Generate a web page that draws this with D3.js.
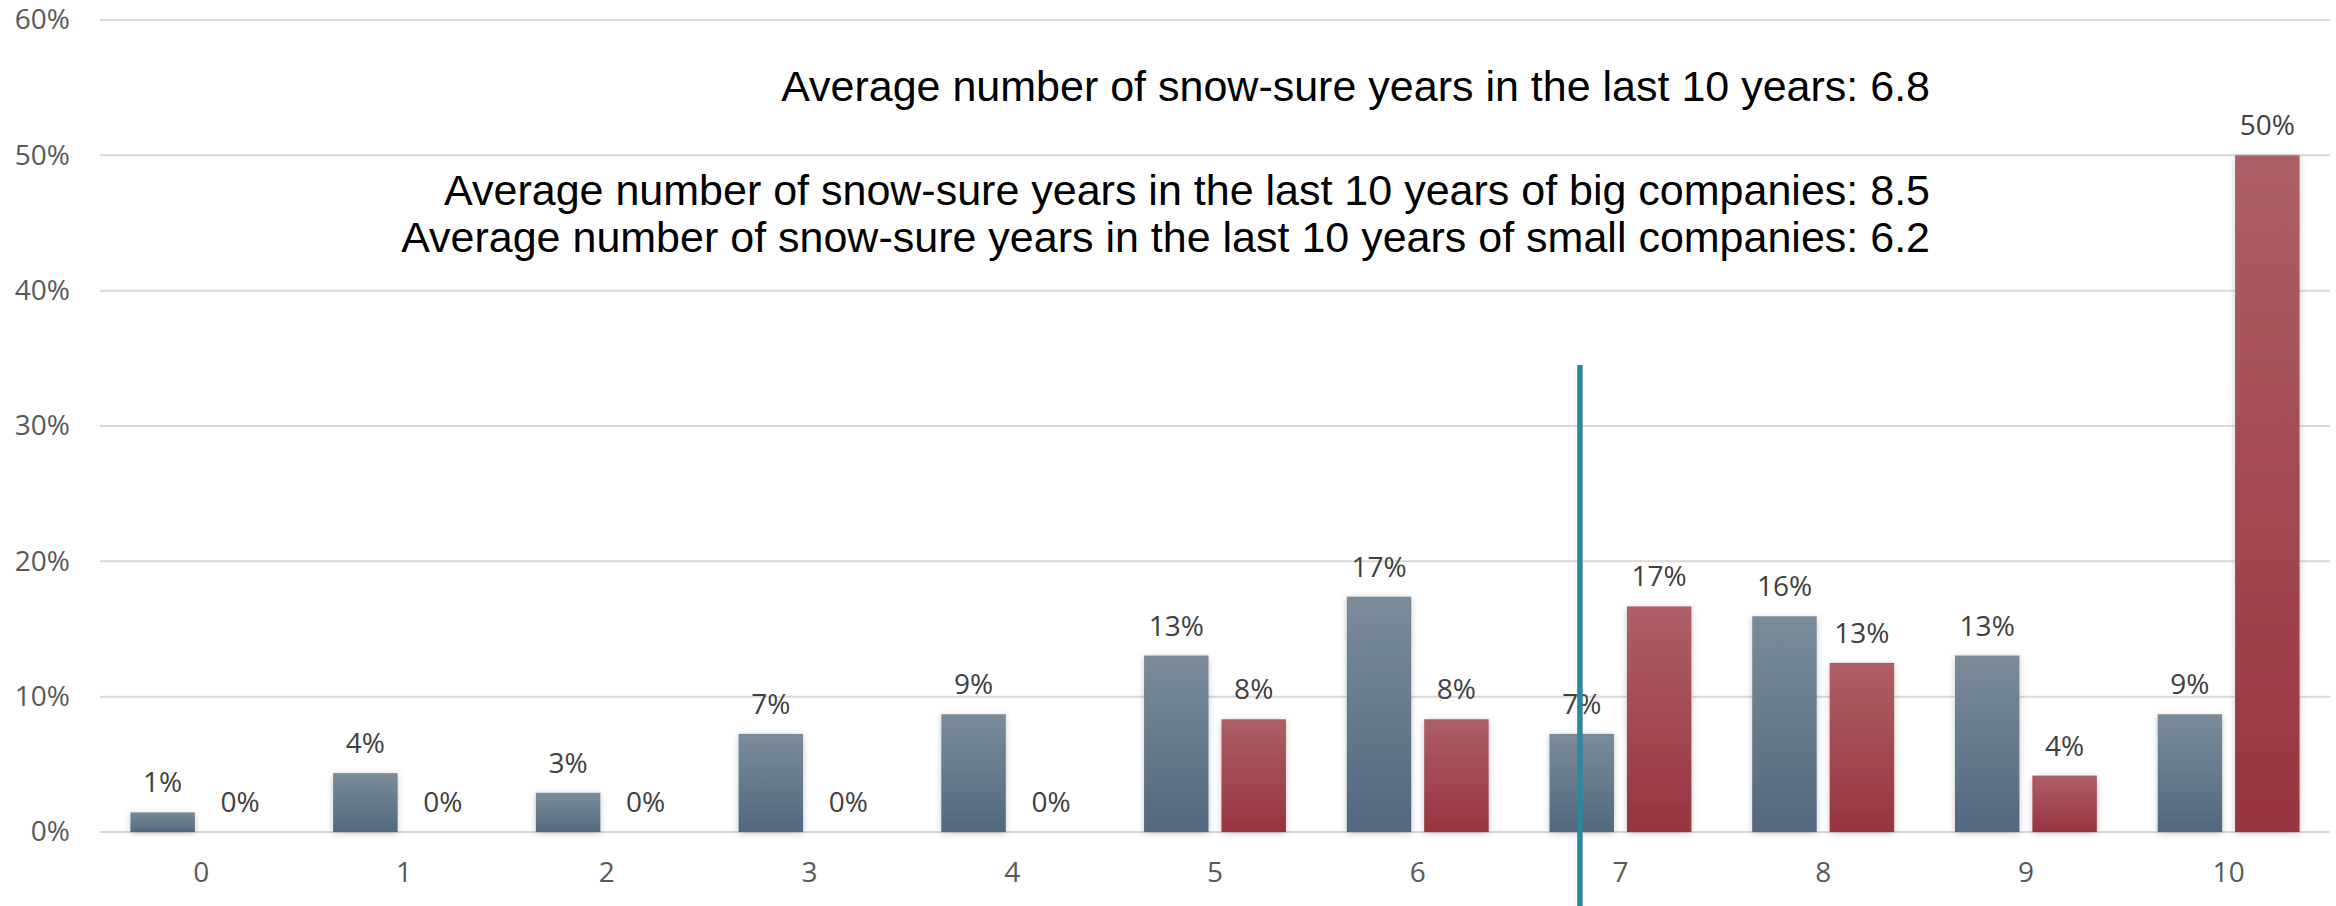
<!DOCTYPE html>
<html>
<head>
<meta charset="utf-8">
<script src="https://cdn.jsdelivr.net/npm/d3@7"></script>
<style>
  html, body { margin: 0; padding: 0; background: #fff; }
  svg { display: block; }
</style>
</head>
<body>
<div id="chart"></div>
<script>
// Number of snow-sure years out of the last ten, share of companies per bucket
const categories = ["0", "1", "2", "3", "4", "5", "6", "7", "8", "9", "10"];
const smallCompanies = [0.0145, 0.0435, 0.029, 0.0725, 0.087, 0.1304, 0.1739, 0.0725, 0.1594, 0.1304, 0.087];
const bigCompanies = [0, 0, 0, 0, 0, 0.0833, 0.0833, 0.1667, 0.125, 0.0417, 0.5];
const seriesNames = ["small", "big"];
const yTicks = [0, 0.1, 0.2, 0.3, 0.4, 0.5, 0.6];
const overallAverage = 6.8;
const markerTop = 0.345;
const notes = [
  "Average number of snow-sure years in the last 10 years: 6.8",
  "Average number of snow-sure years in the last 10 years of big companies: 8.5",
  "Average number of snow-sure years in the last 10 years of small companies: 6.2"
];

const W = 2336, H = 906;
const plot = { left: 100, right: 2330, top: 20, bottom: 832 };

const svg = d3.select("#chart").append("svg")
  .attr("width", W).attr("height", H);

const defs = svg.append("defs");

const gradients = {
  small: ["#7a8c9a", "#52687e"],
  big: ["#ae5f66", "#97343f"]
};
Object.entries(gradients).forEach(([key, [top, bottom]]) => {
  const g = defs.append("linearGradient")
    .attr("id", "grad-" + key)
    .attr("x1", 0).attr("y1", 0).attr("x2", 0).attr("y2", 1);
  g.append("stop").attr("offset", "0%").attr("stop-color", top);
  g.append("stop").attr("offset", "100%").attr("stop-color", bottom);
});

const shadow = defs.append("filter").attr("id", "barShadow")
  .attr("x", "-20%").attr("y", "-20%").attr("width", "140%").attr("height", "140%");
shadow.append("feDropShadow")
  .attr("dx", 0).attr("dy", 1.5)
  .attr("stdDeviation", 3)
  .attr("flood-color", "#000")
  .attr("flood-opacity", 0.22);

const y = d3.scaleLinear().domain([0, 0.6]).range([plot.bottom, plot.top]);

const x0 = d3.scaleBand()
  .domain(categories)
  .range([plot.left, plot.right])
  .paddingInner(0.3)
  .paddingOuter(0.15);

const x1 = d3.scaleBand()
  .domain(seriesNames)
  .range([0, x0.bandwidth()])
  .paddingInner(0.167);

// Horizontal gridlines
svg.append("g")
  .selectAll("line")
  .data(yTicks)
  .join("line")
  .attr("x1", plot.left).attr("x2", plot.right)
  .attr("y1", d => y(d)).attr("y2", d => y(d))
  .attr("stroke", "#d9d9d9")
  .attr("stroke-width", 2);

// Y axis labels
const yAxis = d3.axisLeft(y)
  .tickValues(yTicks)
  .tickFormat(d3.format(".0%"))
  .tickSize(0)
  .tickPadding(30);
const yAxisG = svg.append("g")
  .attr("transform", `translate(${plot.left},0)`)
  .call(yAxis);
yAxisG.select(".domain").remove();
yAxisG.selectAll("text")
  .attr("font-family", "'Open Sans', sans-serif")
  .attr("font-size", 28)
  .attr("fill", "#595959");

// X axis labels
const xAxis = d3.axisBottom(x0).tickSize(0).tickPadding(30);
const xAxisG = svg.append("g")
  .attr("transform", `translate(0,${plot.bottom})`)
  .call(xAxis);
xAxisG.select(".domain").remove();
xAxisG.selectAll("text")
  .attr("font-family", "'Open Sans', sans-serif")
  .attr("font-size", 28)
  .attr("fill", "#595959");

// Bars
const rows = categories.map((c, i) => ({
  category: c,
  values: [
    { key: "small", value: smallCompanies[i] },
    { key: "big", value: bigCompanies[i] }
  ]
}));

const groups = svg.append("g")
  .selectAll("g")
  .data(rows)
  .join("g")
  .attr("transform", d => `translate(${x0(d.category)},0)`);

groups.selectAll("rect")
  .data(d => d.values.filter(v => v.value > 0))
  .join("rect")
  .attr("x", d => x1(d.key))
  .attr("y", d => y(d.value))
  .attr("width", x1.bandwidth())
  .attr("height", d => y(0) - y(d.value))
  .attr("fill", d => `url(#grad-${d.key})`)
  .attr("filter", "url(#barShadow)");

groups.selectAll("text")
  .data(d => d.values)
  .join("text")
  .attr("x", d => x1(d.key) + x1.bandwidth() / 2)
  .attr("y", d => y(d.value) - 20)
  .attr("text-anchor", "middle")
  .attr("font-family", "'Open Sans', sans-serif")
  .attr("font-size", 28)
  .attr("fill", "#404040")
  .text(d => d3.format(".0%")(d.value));

// Marker line at the overall average
const xPos = d3.scaleLinear()
  .domain([0, categories.length - 1])
  .range([x0(categories[0]) + x0.bandwidth() / 2,
          x0(categories[categories.length - 1]) + x0.bandwidth() / 2]);

svg.append("line")
  .attr("x1", xPos(overallAverage)).attr("x2", xPos(overallAverage))
  .attr("y1", y(markerTop)).attr("y2", H)
  .attr("stroke", "#2e86a3")
  .attr("stroke-width", 5.5);

// Notes
const noteBaselines = [101, 205, 252];
svg.append("g")
  .selectAll("text")
  .data(notes)
  .join("text")
  .attr("x", 1930)
  .attr("y", (d, i) => noteBaselines[i])
  .attr("text-anchor", "end")
  .attr("font-family", "'Liberation Sans', Arial, sans-serif")
  .attr("font-size", 43)
  .attr("fill", "#000")
  .text(d => d);
</script>
</body>
</html>
